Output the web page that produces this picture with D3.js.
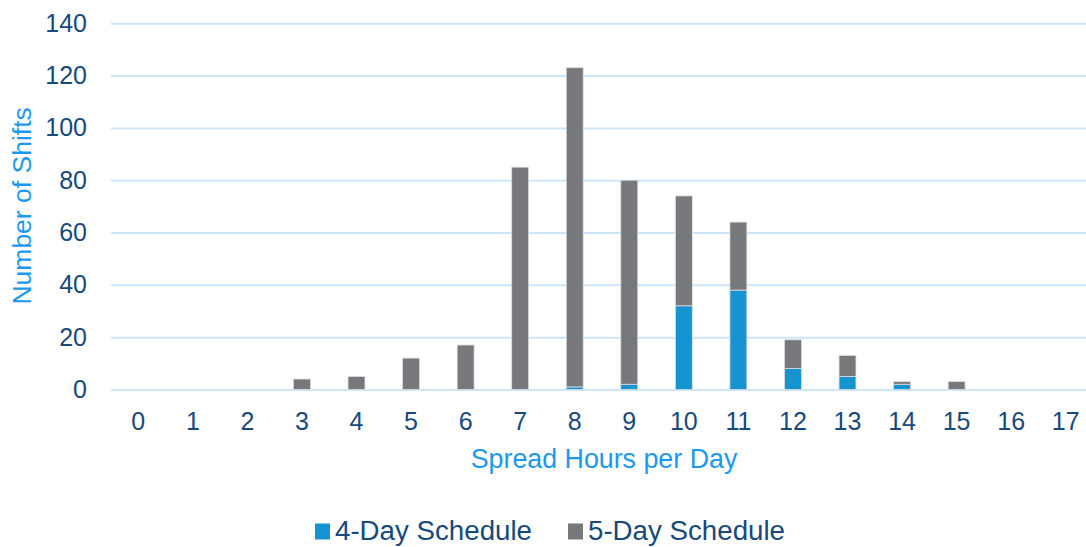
<!DOCTYPE html>
<html>
<head>
<meta charset="utf-8">
<script src="https://cdn.jsdelivr.net/npm/d3@7"></script>
<style>
  html, body { margin: 0; padding: 0; background: #fff; }
  svg { display: block; font-family: "Liberation Sans", Arial, sans-serif; }
</style>
</head>
<body>
<svg id="chart" width="1086" height="547"></svg>
<script>
// Spread hours per day (categories) and shift counts per schedule type
const hours = ["0","1","2","3","4","5","6","7","8","9","10","11","12","13","14","15","16","17"];
const fourDay = [0,0,0,0,0,0,0,0,1,2,32,38,8,5,2,0,0,0];
const fiveDay = [0,0,0,4,5,12,17,85,122,78,42,26,11,8,1,3,0,0];
const seriesNames = ["4-Day Schedule", "5-Day Schedule"];
const yTicks = [0,20,40,60,80,100,120,140];

const colors = { "4-Day Schedule": "#1693d1", "5-Day Schedule": "#77787c" };
const tickColor = "#17497c";
const titleColor = "#1b98f2";
const gridColor = "#cde6fa";

const svg = d3.select("#chart");
const plotLeft = 111, plotRight = 1093, plotTop = 23.3, plotBottom = 389.5;

const x = d3.scaleBand()
  .domain(hours)
  .range([plotLeft, plotRight])
  .paddingInner(0.69)
  .paddingOuter(0.345);

const y = d3.scaleLinear()
  .domain([0, 140])
  .range([plotBottom, plotTop]);

// Horizontal gridlines with value labels
const yAxis = svg.append("g")
  .attr("transform", `translate(${plotLeft},0)`)
  .call(d3.axisLeft(y).tickValues(yTicks).tickSize(-(plotRight - plotLeft)).tickPadding(24));
yAxis.select(".domain").remove();
yAxis.selectAll(".tick line").attr("stroke", gridColor).attr("stroke-width", 2);
yAxis.selectAll(".tick text")
  .attr("fill", tickColor)
  .attr("font-size", 25)
  .attr("font-family", "Liberation Sans, Arial, sans-serif");

// Stacked bars
const rows = hours.map((h, i) => ({ hour: h, "4-Day Schedule": fourDay[i], "5-Day Schedule": fiveDay[i] }));
const stacked = d3.stack().keys(seriesNames)(rows);

svg.append("g")
  .selectAll("g")
  .data(stacked)
  .join("g")
  .attr("fill", d => colors[d.key])
  .selectAll("rect")
  .data(d => d.filter(p => p[1] - p[0] > 0))
  .join("rect")
  .attr("x", d => x(d.data.hour))
  .attr("width", x.bandwidth())
  .attr("y", d => y(d[1]))
  .attr("height", d => y(d[0]) - y(d[1]))
  .attr("stroke", "#dcdcdc")
  .attr("stroke-width", 0.8);

// Category labels
const xAxis = svg.append("g")
  .attr("transform", `translate(0,${plotBottom})`)
  .call(d3.axisBottom(x).tickSize(0).tickPadding(23));
xAxis.select(".domain").remove();
xAxis.selectAll(".tick text")
  .attr("fill", tickColor)
  .attr("font-size", 25)
  .attr("font-family", "Liberation Sans, Arial, sans-serif");

// Axis titles
svg.append("text")
  .attr("x", (plotLeft + plotRight) / 2 + 2)
  .attr("y", 468)
  .attr("text-anchor", "middle")
  .attr("fill", titleColor)
  .attr("font-size", 26.8)
  .text("Spread Hours per Day");

svg.append("text")
  .attr("transform", `translate(31,${(plotTop + plotBottom) / 2 - 0.5}) rotate(-90)`)
  .attr("text-anchor", "middle")
  .attr("fill", titleColor)
  .attr("font-size", 26.5)
  .text("Number of Shifts");

// Legend
const legendX = [315, 568];
const legend = svg.append("g")
  .selectAll("g")
  .data(seriesNames)
  .join("g")
  .attr("transform", (d, i) => `translate(${legendX[i]},0)`);
legend.append("rect")
  .attr("x", 0)
  .attr("y", 523.5)
  .attr("width", 15)
  .attr("height", 16)
  .attr("fill", d => colors[d]);
legend.append("text")
  .attr("x", 20)
  .attr("y", 540)
  .attr("fill", tickColor)
  .attr("font-size", 27.7)
  .text(d => d);
</script>
</body>
</html>
